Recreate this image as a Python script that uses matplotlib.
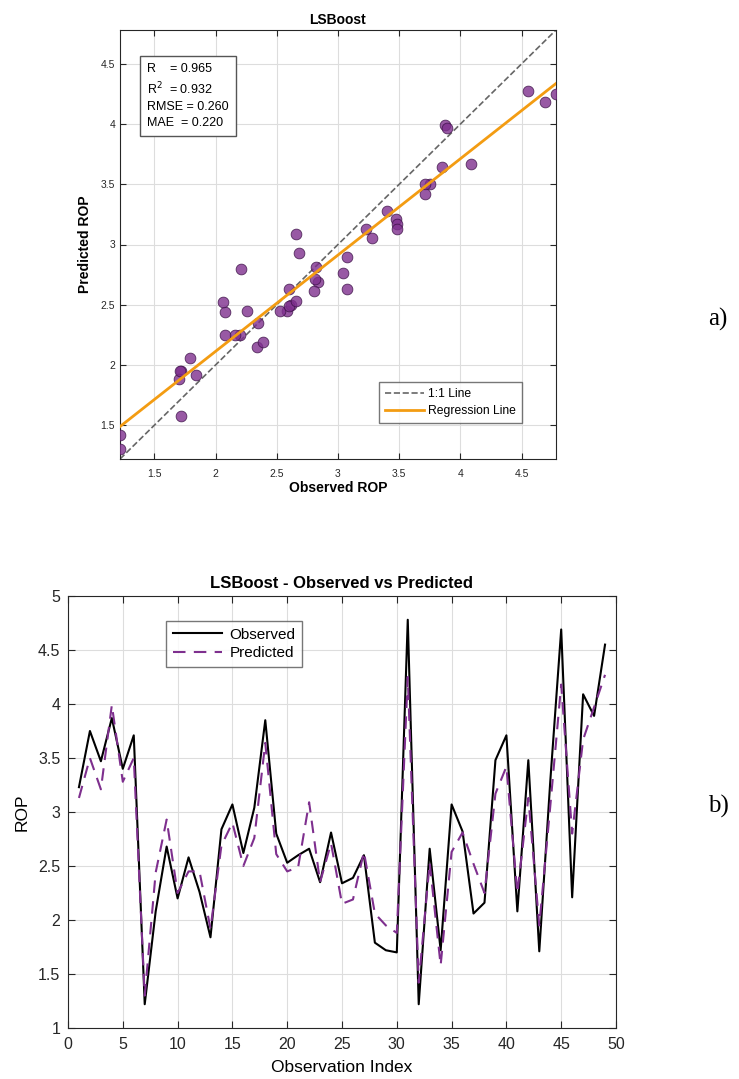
import numpy as np
import matplotlib
matplotlib.use("Agg")
import matplotlib.pyplot as plt

plt.rcParams["font.family"] = ["Liberation Sans", "DejaVu Sans"]

# observed and predicted ROP for each observation
obs_index = list(range(1, 50))
observed = [3.23, 3.75, 3.47, 3.87, 3.40, 3.71, 1.22, 2.08, 2.68, 2.20,
            2.58, 2.26, 1.84, 2.84, 3.07, 2.62, 3.04, 3.85, 2.80, 2.53,
            2.60, 2.66, 2.35, 2.81, 2.34, 2.39, 2.60, 1.79, 1.72, 1.70,
            4.78, 1.22, 2.66, 1.72, 3.07, 2.82, 2.06, 2.16, 3.48, 3.71,
            2.08, 3.48, 1.71, 3.28, 4.69, 2.21, 4.09, 3.89, 4.55]
predicted = [3.13, 3.50, 3.21, 3.99, 3.28, 3.50, 1.30, 2.44, 2.93, 2.25,
             2.45, 2.45, 1.92, 2.69, 2.90, 2.50, 2.76, 3.64, 2.61, 2.45,
             2.49, 3.09, 2.35, 2.71, 2.15, 2.19, 2.63, 2.06, 1.95, 1.88,
             4.25, 1.42, 2.53, 1.58, 2.63, 2.81, 2.52, 2.25, 3.17, 3.42,
             2.25, 3.13, 1.95, 3.05, 4.18, 2.80, 3.67, 3.97, 4.27]
stats_lines = ["R    = 0.965", "R$^2$  = 0.932", "RMSE = 0.260", "MAE  = 0.220"]

purple = "#7E2F8E"
orange = "#F39C12"

fig = plt.figure(figsize=(7.39, 10.79), dpi=100)

# a) scatter of predicted vs observed
ax1 = fig.add_axes([120 / 739, 1 - 459 / 1079, 436 / 739, 429 / 1079])
lo = min(min(observed), min(predicted))
hi = max(max(observed), max(predicted))
ax1.scatter(observed, predicted, s=60, facecolor=purple, alpha=0.8,
            edgecolor="#3a1045", linewidth=0.6, zorder=3)
ax1.plot([lo, hi], [lo, hi], "--", color="#666666", linewidth=1.2,
         label="1:1 Line", zorder=2)
coef = np.polyfit(observed, predicted, 1)
xs = np.array([lo, hi])
ax1.plot(xs, np.polyval(coef, xs), color=orange, linewidth=2,
         label="Regression Line", zorder=4)
ax1.set_xlim(lo, hi)
ax1.set_ylim(lo, hi)
ax1.set_xticks(np.arange(1.5, 4.51, 0.5))
ax1.set_yticks(np.arange(1.5, 4.51, 0.5))
ax1.set_xticklabels(["1.5", "2", "2.5", "3", "3.5", "4", "4.5"])
ax1.set_yticklabels(["1.5", "2", "2.5", "3", "3.5", "4", "4.5"])
ax1.tick_params(direction="in", top=True, right=True, labelsize=7.5,
                length=4, colors="#262626")
ax1.tick_params(axis="x", pad=7)
ax1.grid(True, color="#dddddd", linewidth=0.8)
ax1.set_axisbelow(True)
for sp in ax1.spines.values():
    sp.set_color("#262626")
ax1.set_title("LSBoost", fontsize=10, fontweight="bold", pad=4)
ax1.set_xlabel("Observed ROP", fontsize=10, fontweight="bold", labelpad=2)
ax1.set_ylabel("Predicted ROP", fontsize=10, fontweight="bold", labelpad=6)
ax1.text(0.062, 0.922, "\n".join(stats_lines), transform=ax1.transAxes,
         fontsize=9, va="top", ha="left", linespacing=1.4,
         bbox=dict(boxstyle="square,pad=0.6", facecolor="white",
                   edgecolor="#555555", linewidth=1))
leg1 = ax1.legend(loc="lower left", bbox_to_anchor=(0.58, 0.07),
                  fontsize=8.7, frameon=True, fancybox=False,
                  handlelength=3.2, borderpad=0.5, labelspacing=0.4,
                  handletextpad=0.4)
leg1.get_frame().set_edgecolor("#555555")
leg1.get_frame().set_linewidth(1)

# b) observed vs predicted by observation
ax2 = fig.add_axes([68 / 739, 1 - 1028 / 1079, 548 / 739, 432 / 1079])
ax2.plot(obs_index, observed, color="black", linewidth=1.5, label="Observed")
ax2.plot(obs_index, predicted, "--", color=purple, linewidth=1.5,
         dashes=(6, 4), label="Predicted")
ax2.set_xlim(0, 50)
ax2.set_ylim(1, 5)
ax2.set_xticks(range(0, 51, 5))
ax2.set_yticks(np.arange(1, 5.01, 0.5))
ax2.set_yticklabels(["1", "1.5", "2", "2.5", "3", "3.5", "4", "4.5", "5"])
ax2.tick_params(direction="in", top=True, right=True, labelsize=11.5,
                length=5, colors="#262626")
ax2.tick_params(axis="x", pad=6.5)
ax2.tick_params(axis="y", pad=5.5)
ax2.grid(True, color="#dddddd", linewidth=0.8)
for sp in ax2.spines.values():
    sp.set_color("#262626")
ax2.set_title("LSBoost - Observed vs Predicted", fontsize=12,
              fontweight="bold", pad=6)
ax2.set_xlabel("Observation Index", fontsize=12.5, labelpad=6)
ax2.set_ylabel("ROP", fontsize=12.5, labelpad=6)
leg2 = ax2.legend(loc="upper left", bbox_to_anchor=(0.165, 0.96),
                  fontsize=11, frameon=True, fancybox=False,
                  handlelength=3.2, borderpad=0.45, labelspacing=0.3,
                  handletextpad=0.5)
leg2.get_frame().set_edgecolor("#555555")
leg2.get_frame().set_linewidth(1)

fig.text(718 / 739, 1 - 319 / 1079, "a)", fontsize=18,
         family="Liberation Serif", ha="center", va="center")
fig.text(718 / 739, 1 - 806 / 1079, "b)", fontsize=18,
         family="Liberation Serif", ha="center", va="center")

fig.savefig("out.png", dpi=100)
